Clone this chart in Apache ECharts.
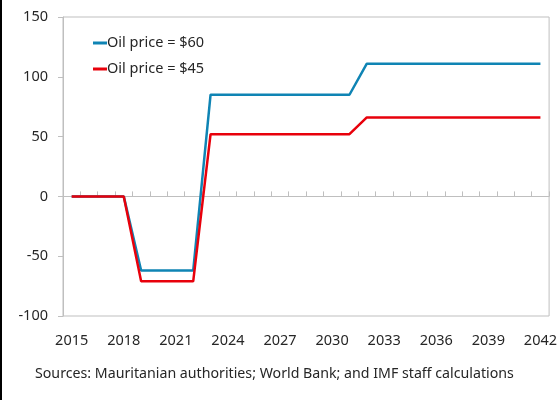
<!DOCTYPE html>
<html>
<head>
<meta charset="utf-8">
<script src="https://cdn.jsdelivr.net/npm/echarts@6/dist/echarts.min.js"></script>
<style>
  html, body { margin: 0; padding: 0; background: #fff; }
  #chart { width: 560px; height: 400px; }
</style>
</head>
<body>
<div id="chart"></div>
<script>
// Years on the horizontal axis
const years = [];
for (let y = 2015; y <= 2042; y++) years.push(String(y));

// Series values by year, 2015-2042
const oil60 = [0, 0, 0, 0, -62, -62, -62, -62, 85, 85, 85, 85, 85, 85, 85, 85, 85,
  111, 111, 111, 111, 111, 111, 111, 111, 111, 111, 111];
const oil45 = [0, 0, 0, 0, -71, -71, -71, -71, 52, 52, 52, 52, 52, 52, 52, 52, 52,
  66, 66, 66, 66, 66, 66, 66, 66, 66, 66, 66];

const seriesNames = ['Oil price = $60', 'Oil price = $45'];
const sourceNote = 'Sources: Mauritanian authorities; World Bank; and IMF staff calculations';

const FONT = '"Noto Sans", sans-serif';
const GRAY = '#bfbfbf';
const TEXT = '#262626';

const chart = echarts.init(document.getElementById('chart'));
chart.setOption({
  animation: false,
  grid: {
    left: 63, right: 10, top: 17, bottom: 84,
    show: true, borderColor: GRAY, borderWidth: 1, backgroundColor: 'transparent'
  },
  legend: {
    orient: 'vertical',
    left: 88, top: 30,
    icon: 'rect',
    itemWidth: 14, itemHeight: 3,
    itemGap: 10,
    textStyle: { fontFamily: FONT, fontSize: 14.5, color: TEXT, lineHeight: 16, padding: [0, 0, 0, -5] },
    data: seriesNames
  },
  xAxis: [
    {
      type: 'category',
      data: years,
      position: 'bottom',
      axisLine: { show: false, onZero: false },
      axisTick: { show: false },
      axisLabel: { interval: 2, fontFamily: FONT, fontSize: 14.5, color: TEXT, margin: 17 }
    },
    {
      type: 'category',
      data: years,
      position: 'bottom',
      axisLine: { show: true, onZero: true, lineStyle: { color: GRAY, width: 1 } },
      axisTick: { show: true, inside: true, length: 5, interval: 0, lineStyle: { color: GRAY } },
      axisLabel: { show: false }
    }
  ],
  yAxis: {
    type: 'value',
    min: -100, max: 150, interval: 50,
    axisLine: { show: true, lineStyle: { color: GRAY } },
    axisTick: { show: true, length: 5, lineStyle: { color: GRAY } },
    splitLine: { show: false },
    axisLabel: { fontFamily: FONT, fontSize: 14.5, color: TEXT, margin: 15 }
  },
  series: [
    {
      name: seriesNames[0], type: 'line', data: oil60, xAxisIndex: 0,
      symbol: 'none', color: '#0f84b4',
      lineStyle: { width: 2.5, color: '#0f84b4' }, z: 3
    },
    {
      name: seriesNames[1], type: 'line', data: oil45, xAxisIndex: 0,
      symbol: 'none', color: '#e8000b',
      lineStyle: { width: 2.5, color: '#e8000b' }, z: 4
    }
  ],
  graphic: [
    {
      type: 'text', left: 35, top: 367,
      style: { text: sourceNote, font: '14.2px ' + FONT, fill: TEXT }
    },
    {
      type: 'line', shape: { x1: 1, y1: 0, x2: 1, y2: 400 },
      style: { stroke: '#000', lineWidth: 2 }
    }
  ]
});
</script>
</body>
</html>
